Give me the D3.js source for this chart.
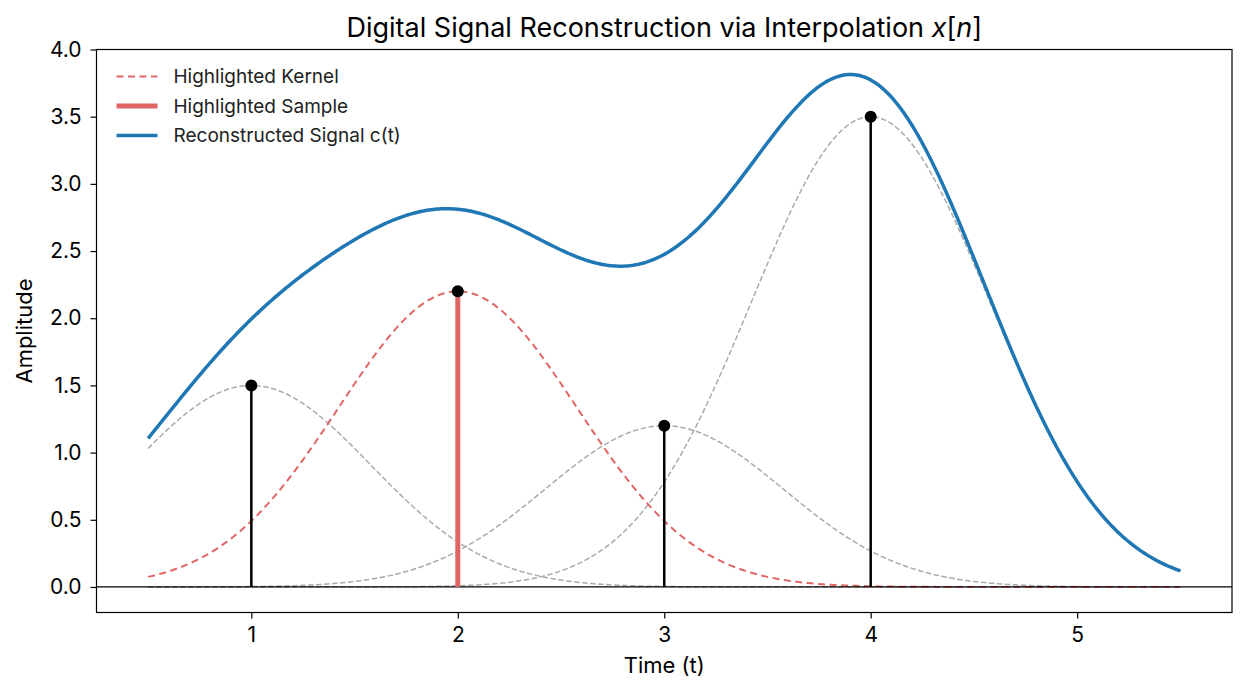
<!DOCTYPE html>
<html>
<head>
<meta charset="utf-8">
<script src="https://cdn.jsdelivr.net/npm/d3@7"></script>
<style>
  body { margin: 0; background: #fff; }
  text { font-family: "Inter", "Roboto", sans-serif; }
</style>
</head>
<body>
<div id="chart"></div>
<script>
// samples x[n] at integer times
const sampleTimes = [1, 2, 3, 4];
const sampleValues = [1.5, 2.2, 1.2, 3.5];
const highlightIndex = 1;          // sample at t = 2
const kernelWidth = 1.5;           // gaussian kernel exp(-k (t - n)^2)
const tRange = [0.5, 5.5];
const xTicks = [1, 2, 3, 4, 5];
const yTicks = [0, 0.5, 1, 1.5, 2, 2.5, 3, 3.5, 4];

const W = 1246, H = 695;
const margin = { top: 49.5, right: 14, bottom: 82.5, left: 96.5 };
const width = W - margin.left - margin.right;
const height = H - margin.top - margin.bottom;

const svg = d3.select("#chart").append("svg")
  .attr("width", W).attr("height", H);
const g = svg.append("g").attr("transform", `translate(${margin.left},${margin.top})`);

const x = d3.scaleLinear().domain([0.25, 5.75]).range([0, width]);
const y = d3.scaleLinear().domain([-0.19, 4.0]).range([height, 0]);

// time grid for the curves
const ts = d3.range(0, 501).map(i => tRange[0] + (tRange[1] - tRange[0]) * i / 500);
const kernel = (t, n, a) => a * Math.exp(-kernelWidth * (t - n) * (t - n));
const kernels = sampleTimes.map((n, i) => ts.map(t => [t, kernel(t, n, sampleValues[i])]));
const recon = ts.map(t => [t, d3.sum(sampleTimes, (n, i) => kernel(t, n, sampleValues[i]))]);

const line = d3.line().x(d => x(d[0])).y(d => y(d[1]));

g.append("defs").append("clipPath").attr("id", "clip")
  .append("rect").attr("width", width).attr("height", height);
const plot = g.append("g").attr("clip-path", "url(#clip)");

// grey kernels
kernels.forEach((k, i) => {
  if (i === highlightIndex) return;
  plot.append("path").datum(k).attr("d", line)
    .attr("fill", "none").attr("stroke", "#aaaaaa")
    .attr("stroke-width", 1.5).attr("stroke-dasharray", "5.5,2.5");
});

// highlighted kernel
plot.append("path").datum(kernels[highlightIndex]).attr("d", line)
  .attr("fill", "none").attr("stroke", "#e06666")
  .attr("stroke-width", 2).attr("stroke-dasharray", "7,4.5");

// zero line
plot.append("line")
  .attr("x1", 0).attr("x2", width).attr("y1", y(0)).attr("y2", y(0))
  .attr("stroke", "#000").attr("stroke-width", 1.2);

// stems
plot.selectAll(".stem").data(sampleTimes).enter().append("line")
  .attr("x1", d => x(d)).attr("x2", d => x(d))
  .attr("y1", y(0)).attr("y2", (d, i) => y(sampleValues[i]))
  .attr("stroke", (d, i) => i === highlightIndex ? "#e06666" : "#000")
  .attr("stroke-width", (d, i) => i === highlightIndex ? 5 : 2.5);

// reconstructed signal
plot.append("path").datum(recon).attr("d", line)
  .attr("fill", "none").attr("stroke", "#1f77b4")
  .attr("stroke-width", 3.5);

// sample markers
plot.selectAll(".dot").data(sampleTimes).enter().append("circle")
  .attr("cx", d => x(d)).attr("cy", (d, i) => y(sampleValues[i]))
  .attr("r", 6).attr("fill", "#000");

// axes
const xAxis = g.append("g").attr("transform", `translate(0,${height})`)
  .call(d3.axisBottom(x).tickValues(xTicks).tickFormat(d3.format("d")).tickSize(6).tickPadding(9));
const yAxis = g.append("g")
  .call(d3.axisLeft(y).tickValues(yTicks).tickFormat(d3.format(".1f")).tickSize(6).tickPadding(9));
[xAxis, yAxis].forEach(a => {
  a.select(".domain").remove();
  a.selectAll("text").style("font-size", "21px").attr("fill", "#000");
  a.selectAll("line").attr("stroke", "#000").attr("stroke-width", 1.2);
});

g.append("rect").attr("width", width).attr("height", height)
  .attr("fill", "none").attr("stroke", "#000").attr("stroke-width", 1.2);

// labels
g.append("text").attr("x", width / 2).attr("y", height + 60)
  .attr("text-anchor", "middle").style("font-size", "22px").text("Time (t)");
g.append("text").attr("transform", "rotate(-90)")
  .attr("x", -height / 2).attr("y", -margin.left + 32)
  .attr("text-anchor", "middle").style("font-size", "22px").text("Amplitude");

const title = g.append("text").attr("x", width / 2).attr("y", -13)
  .attr("text-anchor", "middle").style("font-size", "27px");
title.append("tspan").text("Digital Signal Reconstruction via Interpolation ");
title.append("tspan").style("font-style", "italic").text("x");
title.append("tspan").text("[");
title.append("tspan").style("font-style", "italic").text("n");
title.append("tspan").text("]");

// legend
const legendItems = [
  { label: "Highlighted Kernel", color: "#e06666", w: 2, dash: "7,4.5" },
  { label: "Highlighted Sample", color: "#e06666", w: 5, dash: null },
  { label: "Reconstructed Signal c(t)", color: "#1f77b4", w: 3.5, dash: null }
];
const legend = g.append("g").attr("transform", "translate(20,27)");
legendItems.forEach((d, i) => {
  const row = legend.append("g").attr("transform", `translate(0,${i * 29.5})`);
  row.append("line").attr("x1", 0).attr("x2", 41).attr("y1", 0).attr("y2", 0)
    .attr("stroke", d.color).attr("stroke-width", d.w)
    .attr("stroke-dasharray", d.dash);
  row.append("text").attr("x", 57).attr("y", 0).attr("dy", "0.35em")
    .style("font-size", "19px").attr("fill", "#222").text(d.label);
});
</script>
</body>
</html>
